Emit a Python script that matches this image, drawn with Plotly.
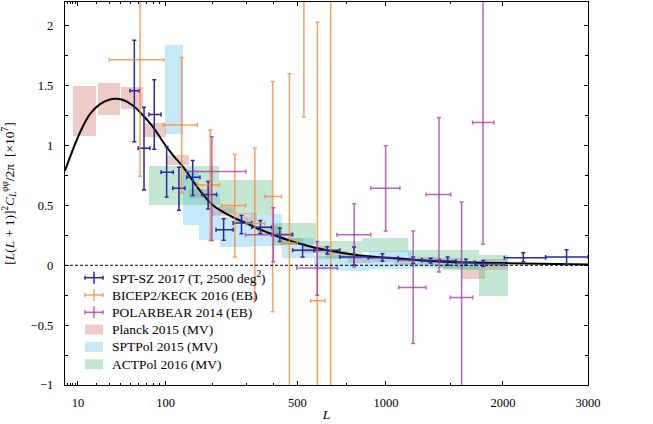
import plotly.graph_objects as go

P = 0.4  # power-law scale of the L axis (axis shows L**P)

# ---------------- data ----------------
curve_L = [5.3, 10.9, 16, 22.4, 30, 35.9, 42.4, 53.3, 65.9, 80.1, 95.9, 113.6, 133, 154.3,
           177.5, 202.7, 259, 302, 348, 399, 453, 542, 643, 831, 1098, 1248, 1496, 1968, 3000]
curve_v = [0.79, 1.11, 1.264, 1.347, 1.386, 1.392, 1.381, 1.333, 1.25, 1.153, 1.028, 0.917, 0.82, 0.70,
           0.59, 0.50, 0.40, 0.35, 0.30, 0.255, 0.215, 0.165, 0.125, 0.083, 0.056, 0.042, 0.028, 0.019, 0.006]

# SPT-SZ 2017 (T, 2500 deg^2)
sptsz_L = [54.6, 66.9, 81.6, 101.7, 124.4, 153, 189.6, 231, 285, 350, 425, 524, 646, 796, 976, 1196, 1333, 1476, 1638, 1802, 2217, 2725]
sptsz_Lmin = [49.6, 59.4, 73.8, 92.2, 112.5, 140, 173.6, 210, 259, 319, 392, 479, 583, 714, 883, 1086, 1264, 1410, 1548, 1722, 2014, 2471]
sptsz_Lmax = [60.7, 75.2, 92.2, 113.6, 136.5, 169.7, 211.7, 259, 319, 392, 479, 578, 714, 883, 1086, 1264, 1410, 1548, 1722, 2014, 2471, 3000]
sptsz_v = [1.458, 0.978, 1.26, 0.778, 0.644, 0.736, 0.592, 0.297, 0.353, 0.319, 0.258, 0.125, 0.125, 0.07, 0.064, 0.047, 0.04, 0.036, 0.025, 0.014, 0.064, 0.07]
sptsz_hi = [1.88, 1.32, 1.55, 0.99, 0.82, 0.875, 0.70, 0.39, 0.417, 0.375, 0.31, 0.18, 0.155, 0.153, 0.097, 0.07, 0.06, 0.07, 0.05, 0.04, 0.106, 0.131]
sptsz_lo = [1.033, 0.63, 0.97, 0.57, 0.46, 0.583, 0.47, 0.21, 0.264, 0.264, 0.20, 0.07, 0.095, 0.0, 0.033, 0.015, 0.02, 0.0, 0.0, -0.01, 0.028, 0.006]

# BICEP2/KECK 2016 (EB)
bk_L = [61.7, 129.8, 195, 264, 330, 396, 465, 530, 595, 664]
bk_Lmin = [29.4, 95.9, 163.4, 225.4, 300, 366.9, 432, 500, 562, 634]
bk_Lmax = [97, 163.4, 218.8, 298.5, 366, 432, 500, 562, 633.8, 700]
bk_v = [1.717, 1.172, 0.672, 0.50, 0.35, 0.575, 0.186, 2.6, -0.297, 2.6]
bk_hi = [2.7, 1.736, 1.13, 0.925, 0.98, 1.536, 1.60, 3.9, 2.03, 5.0]
bk_lo = [0.744, 0.603, 0.208, 0.069, -0.283, -0.389, -1.3, 1.24, -1.5, -1.5]

# POLARBEAR 2014 (EB)
pb_L = [199, 398.5, 594.6, 797, 997.7, 1196, 1402, 1599, 1800]
pb_Lmin = [140, 298, 497, 697.6, 899, 1089, 1296, 1499, 1700]
pb_Lmax = [299.6, 474, 700, 899, 1098, 1296, 1502, 1701, 1907]
pb_v = [0.783, 0.256, -0.022, 0.256, 0.644, -0.186, 0.592, -0.269, 1.194]
pb_hi = [1.075, 0.48, 0.20, 0.514, 1.0, 0.286, 1.236, 0.528, 2.6]
pb_lo = [0.208, 0.03, -0.25, -0.014, 0.286, -0.653, -0.056, -1.3, 0.175]

# Planck 2015 (MV) bands
pl_Lmin = [8, 21, 40, 66, 101, 145, 199, 264, 339, 426, 526, 638, 763, 902, 1055, 1222, 1405, 1605, 1822]
pl_Lmax = [20, 39, 65, 100, 144, 198, 263, 338, 425, 525, 637, 762, 901, 1054, 1221, 1404, 1604, 1821, 2048]
pl_lo = [1.08, 1.26, 1.31, 1.07, 0.84, 0.56, 0.41, 0.36, 0.25, 0.17, 0.10, 0.06, 0.02, 0.03, 0.0, 0.0, -0.02, -0.117, -0.04]
pl_hi = [1.50, 1.52, 1.49, 1.19, 0.92, 0.64, 0.49, 0.44, 0.33, 0.23, 0.16, 0.12, 0.09, 0.08, 0.06, 0.07, 0.06, 0.0, 0.05]

# SPTPol 2015 (MV) bands
sp_Lmin = [99, 132, 167, 220, 318, 432, 580, 720, 890, 1180, 1440]
sp_Lmax = [132, 167, 220, 318, 432, 580, 720, 890, 1180, 1440, 1760]
sp_lo = [1.10, 0.34, 0.21, 0.15, 0.16, 0.06, -0.04, -0.05, -0.03, -0.02, -0.03]
sp_hi = [1.84, 0.80, 0.60, 0.40, 0.43, 0.23, 0.08, 0.06, 0.12, 0.05, 0.04]

# ACTPol 2016 (MV) bands
ac_Lmin = [74, 219, 392, 590, 845, 1160, 1440, 1760]
ac_Lmax = [219, 392, 590, 845, 1160, 1440, 1760, 2050]
ac_lo = [0.50, 0.43, 0.17, 0.05, 0.11, 0.03, -0.04, -0.26]
ac_hi = [0.83, 0.71, 0.35, 0.20, 0.23, 0.13, 0.13, 0.09]

x_ticks = [10, 100, 500, 1000, 2000, 3000]
x_minor = [6, 7, 8, 9, 20, 30, 40, 50, 60, 70, 80, 90, 200, 300, 400, 750, 1500]

legend_names = ["SPT-SZ 2017 (T, 2500 deg<sup>2</sup>)", "BICEP2/KECK 2016 (EB)", "POLARBEAR 2014 (EB)",
                "Planck 2015 (MV)", "SPTPol 2015 (MV)", "ACTPol 2016 (MV)"]

# ---------------- styling ----------------
C_SPTSZ = "rgb(40,42,155)"
C_BK = "rgba(255,128,45,0.75)"
C_PB = "rgba(160,50,170,0.75)"
C_PL = "rgba(200,95,85,0.32)"
C_SP = "rgba(70,190,235,0.32)"
C_AC = "rgba(60,175,110,0.30)"

W, H = 653, 424
ML, MR, MT, MB = 65, 65, 2, 39
PW, PH = W - ML - MR, H - MT - MB

def t(L):
    return [l ** P for l in L]

def px(x):  # page pixel -> paper x
    return (x - ML) / PW

def py(y):  # page pixel -> paper y
    return (H - MB - y) / PH

FONT = "Liberation Serif"
fig = go.Figure()

def add_bands(Lmin, Lmax, lo, hi, color):
    a, b = t(Lmin), t(Lmax)
    fig.add_trace(go.Bar(
        x=[(p + q) / 2 for p, q in zip(a, b)],
        width=[q - p for p, q in zip(a, b)],
        base=lo, y=[h - l for h, l in zip(hi, lo)],
        marker=dict(color=color, line=dict(width=0)),
        showlegend=False, hoverinfo="skip"))

add_bands(pl_Lmin, pl_Lmax, pl_lo, pl_hi, C_PL)
add_bands(sp_Lmin, sp_Lmax, sp_lo, sp_hi, C_SP)
add_bands(ac_Lmin, ac_Lmax, ac_lo, ac_hi, C_AC)

fig.add_trace(go.Scatter(x=t(curve_L), y=curve_v, mode="lines", line=dict(color="black", width=2, shape="spline"),
                         showlegend=False, hoverinfo="skip"))

def add_points(L, Lmin, Lmax, v, hi, lo, color):
    u, a, b = t(L), t(Lmin), t(Lmax)
    fig.add_trace(go.Scatter(
        x=u, y=v, mode="markers", marker=dict(size=1, color=color, opacity=0),
        error_x=dict(type="data", symmetric=False, array=[q - c for q, c in zip(b, u)],
                     arrayminus=[c - p for p, c in zip(a, u)], color=color, thickness=1.5, width=2),
        error_y=dict(type="data", symmetric=False, array=[h - c for h, c in zip(hi, v)],
                     arrayminus=[c - l for l, c in zip(lo, v)], color=color, thickness=1.5, width=2),
        showlegend=False, hoverinfo="skip"))

add_points(sptsz_L, sptsz_Lmin, sptsz_Lmax, sptsz_v, sptsz_hi, sptsz_lo, C_SPTSZ)
add_points(bk_L, bk_Lmin, bk_Lmax, bk_v, bk_hi, bk_lo, C_BK)
add_points(pb_L, pb_Lmin, pb_Lmax, pb_v, pb_hi, pb_lo, C_PB)

fig.add_hline(y=0, line=dict(color="black", width=1, dash="3px,2px"), layer="above")

# ---------------- legend (drawn in paper space) ----------------
row_y = [277.7, 295.0, 312.3, 329.6, 346.9, 364.2]
sym_x0, sym_x1, text_x = 85, 103, 110
for i, name in enumerate(legend_names):
    y = row_y[i]
    fig.add_annotation(x=px(text_x), y=py(y), xref="paper", yref="paper", text=name, showarrow=False,
                       xanchor="left", yanchor="middle", font=dict(size=13.5, family=FONT))
for i, col in enumerate([C_SPTSZ, C_BK, C_PB]):
    y = row_y[i]
    xm = (sym_x0 + sym_x1) / 2
    for (x0, y0, x1, y1) in [(sym_x0, y, sym_x1, y), (xm, y - 6, xm, y + 6),
                             (sym_x0, y - 2, sym_x0, y + 2), (sym_x1, y - 2, sym_x1, y + 2)]:
        fig.add_shape(type="line", xref="paper", yref="paper", x0=px(x0), y0=py(y0), x1=px(x1), y1=py(y1),
                      line=dict(color=col, width=1.5))
for i, col in enumerate([C_PL, C_SP, C_AC]):
    y = row_y[3 + i]
    fig.add_shape(type="rect", xref="paper", yref="paper", x0=px(sym_x0), x1=px(sym_x1),
                  y0=py(y + 5), y1=py(y - 5), fillcolor=col, line=dict(width=0))

fig.update_layout(
    width=W, height=H, margin=dict(l=ML, r=MR, t=MT, b=MB),
    paper_bgcolor="white", plot_bgcolor="white", barmode="overlay", bargap=0, showlegend=False,
    font=dict(family=FONT, size=12.5, color="black"),
)
fig.update_xaxes(
    range=[5.32 ** P, 3000 ** P], tickmode="array", tickvals=t(x_ticks), ticktext=[str(v) for v in x_ticks],
    ticks="inside", ticklen=4, tickwidth=1, tickcolor="black", showline=True, linecolor="black", linewidth=1.2,
    mirror="ticks", showgrid=False, zeroline=False, ticklabelstandoff=6,
    minor=dict(tickmode="array", tickvals=t(x_minor), ticks="inside", ticklen=2, tickcolor="black", showgrid=False),
    title=dict(text="<i>L</i>", standoff=0, font=dict(size=13.5)), tickfont=dict(size=12.5))
fig.update_yaxes(
    range=[-1, 2.2], tickmode="array", tickvals=[-1, -0.5, 0, 0.5, 1, 1.5, 2],
    ticktext=["\u22121", "\u22120.5", "0", "0.5", "1", "1.5", "2"],
    ticks="inside", ticklen=4, tickwidth=1, tickcolor="black", showline=True, linecolor="black", linewidth=1.2,
    mirror="ticks", showgrid=False, zeroline=False, ticklabelstandoff=8,
    minor=dict(tickmode="array", tickvals=[-0.75, -0.25, 0.25, 0.75, 1.25, 1.75], ticks="inside", ticklen=3,
               tickcolor="black", showgrid=False),
    title=dict(text="[<i>L</i>(<i>L</i> + 1)]<sup>2</sup><i>C</i><sub><i>L</i></sub><sup><i>φφ</i></sup>/2π  [×10<sup>7</sup>]",
               standoff=16, font=dict(size=13.5)), tickfont=dict(size=12.5))

fig.write_html("out.html", config={"displayModeBar": False, "staticPlot": True},
               post_script="document.body.style.margin='0';")
